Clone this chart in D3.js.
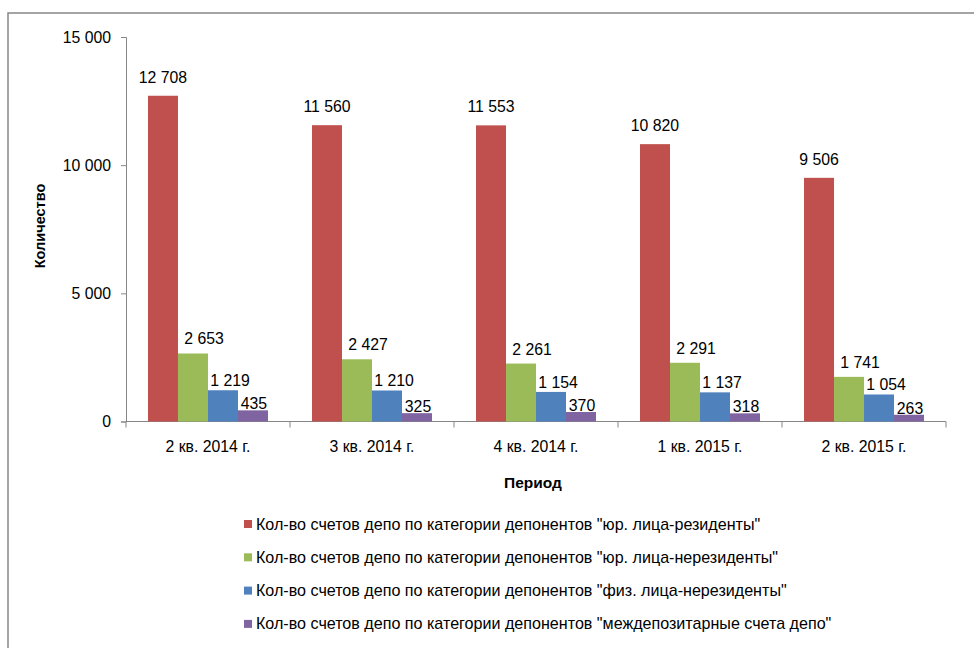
<!DOCTYPE html>
<html><head><meta charset="utf-8">
<script src="https://cdnjs.cloudflare.com/ajax/libs/d3/7.8.5/d3.min.js"></script>
<style>body{margin:0;background:#fff}svg{display:block}text{font-family:"Liberation Sans",Arial,sans-serif;fill:#000}</style>
</head><body>
<svg id="c" width="974" height="648"></svg>
<script>
const categories = ["2 кв. 2014 г.","3 кв. 2014 г.","4 кв. 2014 г.","1 кв. 2015 г.","2 кв. 2015 г."];
const seriesNames = [
 'Кол-во счетов депо по категории депонентов "юр. лица-резиденты"',
 'Кол-во счетов депо по категории депонентов "юр. лица-нерезиденты"',
 'Кол-во счетов депо по категории депонентов "физ. лица-нерезиденты"',
 'Кол-во счетов депо по категории депонентов "междепозитарные счета депо"'
];
const residents = [12708, 11560, 11553, 10820, 9506];
const nonresidents = [2653, 2427, 2261, 2291, 1741];
const individuals = [1219, 1210, 1154, 1137, 1054];
const interdepository = [435, 325, 370, 318, 263];
const yTicks = [0, 5000, 10000, 15000];
const colors = ["#C0504D","#9BBB59","#4F81BD","#8064A2"];
const series = [residents, nonresidents, individuals, interdepository];
// label placement style per series (Excel-like label shift)
const labelStyle = [{dx:0, gap:13},{dx:11, gap:9},{dx:7, gap:4},{dx:1, gap:1}];

const svg = d3.select("#c");
const loc = d3.formatLocale({decimal:",", thousands:" ", grouping:[3], currency:["",""]});
const fmt = loc.format(",d");

svg.append("rect").attr("x",8).attr("y",13).attr("width",1000).attr("height",700)
  .attr("fill","none").attr("stroke","#868686").attr("stroke-width",1.5);

const pL=126, pR=946, pT=37, pB=421.5;
const x = d3.scaleBand().domain(categories).range([pL,pR]).paddingInner(0.2683).paddingOuter(0.134);
const x0 = d3.scaleBand().domain(categories).range([pL,pR]);
const xs = d3.scaleBand().domain(d3.range(4)).range([0, x.bandwidth()]);
const y = d3.scaleLinear().domain([0,15000]).range([pB, pT]);

// y axis
const ya = svg.append("g").attr("transform",`translate(${pL},0)`)
  .call(d3.axisLeft(y).tickValues(yTicks).tickSize(5).tickPadding(10).tickFormat(fmt));
ya.select(".domain").attr("stroke","#868686");
ya.selectAll(".tick line").attr("stroke","#868686");
ya.selectAll("text").attr("font-size","15.8px").attr("fill","#000");
ya.attr("font-family",null);

// x axis
const xa = svg.append("g").attr("transform",`translate(0,${pB})`);
xa.append("line").attr("x1",pL).attr("x2",pR).attr("stroke","#868686");
const tickPos = categories.map(c=>x0(c)).concat([pR]);
xa.selectAll("line.t").data(tickPos).join("line").attr("class","t")
  .attr("x1",d=>d).attr("x2",d=>d).attr("y1",0).attr("y2",6).attr("stroke","#868686");
xa.selectAll("text").data(categories).join("text")
  .attr("x",d=>x0(d)+x0.bandwidth()/2).attr("y",30).attr("text-anchor","middle")
  .attr("font-size","15.8px").text(d=>d);

// bars
series.forEach((vals,si)=>{
  const g = svg.append("g");
  g.selectAll("rect").data(vals).join("rect")
    .attr("x",(d,i)=>x(categories[i])+xs(si))
    .attr("width",xs.bandwidth())
    .attr("y",d=>y(d)).attr("height",d=>pB-y(d))
    .attr("fill",colors[si]);
});
series.forEach((vals,si)=>{
  const g = svg.append("g");
  g.selectAll("text").data(vals).join("text")
    .attr("x",(d,i)=>x(categories[i])+xs(si)+xs.bandwidth()/2+labelStyle[si].dx)
    .attr("y",d=>y(d)-labelStyle[si].gap).attr("text-anchor","middle")
    .attr("font-size","15.8px").text(d=>fmt(d));
});

// axis titles
svg.append("text").attr("transform","translate(45,226) rotate(-90)").attr("text-anchor","middle")
  .attr("font-size","14.5px").attr("font-weight","bold").text("Количество");
svg.append("text").attr("x",533).attr("y",488).attr("text-anchor","middle")
  .attr("font-size","15.5px").attr("font-weight","bold").text("Период");

// legend
const lg = svg.append("g");
seriesNames.forEach((n,i)=>{
  const cy = 524 + i*33.3;
  lg.append("rect").attr("x",244).attr("y",cy-4).attr("width",8).attr("height",8).attr("fill",colors[i]);
  lg.append("text").attr("x",256).attr("y",cy+5.5).attr("font-size","16.1px").text(n);
});
</script>
</body></html>
